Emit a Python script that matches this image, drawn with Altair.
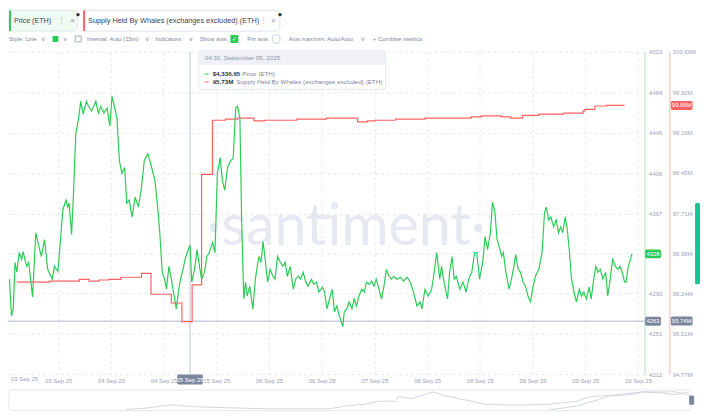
import altair as alt
import pandas as pd

# ------------------------------------------------------------------ data
# hours since 2025-09-03 00:00 and ETH price (USD)
price_hours = [1.1, 1.7, 2.2, 2.7, 3.2, 3.9, 4.6, 5.0, 6.0, 6.6, 7.7, 8.6, 9.5, 10.2, 11.1, 12.0, 13.3, 13.9,
               14.9, 15.8, 16.3, 17.2, 17.7, 18.1, 18.8, 19.3, 20.0, 20.8, 21.4, 22.1, 23.0, 23.6, 24.5, 25.7,
               26.4, 27.1, 28.0, 28.9, 29.7, 30.3, 31.1, 31.7, 32.4, 33.1, 33.9, 34.5, 35.2, 36.0, 36.9, 37.8,
               38.6, 39.5, 40.5, 41.1, 41.8, 42.5, 43.3, 43.9, 44.6, 45.3, 45.8, 46.5, 47.2, 48.0, 48.6, 49.3,
               49.8, 50.5, 51.1, 51.7, 52.5, 53.0, 53.8, 54.5, 55.2, 55.8, 56.6, 57.3, 58.0, 58.9, 59.6, 60.3,
               61.1, 61.7, 62.4, 63.2, 64.1, 64.8, 65.5, 66.0, 66.7, 67.2, 67.8, 68.3, 68.8, 69.5, 70.4, 71.1,
               72.1, 72.7, 73.3, 73.9, 74.6, 75.3, 76.1, 76.7, 77.4, 78.1, 78.9, 79.6, 80.2, 81.0, 81.9, 82.6,
               83.3, 84.0, 84.7, 85.5, 86.1, 87.1, 87.7, 88.5, 89.2, 90.2, 90.8, 91.5, 92.2, 93.0, 93.6, 94.3,
               95.0, 96.0, 96.4, 97.1, 97.8, 98.6, 99.2, 99.9, 100.6, 101.4, 102.1, 102.7, 103.5, 104.2, 104.9,
               105.5, 106.3, 107.0, 107.7, 108.4, 109.1, 109.8, 110.5, 111.4, 112.4, 113.3, 114.3, 115.2,
               116.1, 117.1, 118.0, 118.5, 119.4, 120.3, 121.3, 122.0, 122.7, 123.6, 124.1, 124.8, 125.8,
               126.4, 127.1, 127.7, 128.3, 129.3, 130.2, 131.1, 131.8, 132.7, 133.5, 134.1, 134.9, 135.8,
               136.5, 137.2, 138.0, 138.6, 139.3, 139.9, 140.5, 141.2, 141.7, 142.4, 143.3, 144.0, 144.7,
               145.2, 145.9, 146.6, 147.3, 148.0, 148.7, 149.4, 150.2, 150.8, 151.8, 152.7, 153.4, 153.9,
               154.6, 155.2, 156.0, 156.7, 157.4, 158.0, 158.6, 159.3, 159.9, 160.5, 161.1, 161.8, 162.5,
               163.3, 163.9, 164.6, 165.3, 166.1, 166.7, 167.4, 168.0, 168.6, 169.3, 170.0, 170.8, 171.4,
               172.1, 172.8, 173.6, 174.3, 174.9, 175.5, 176.2, 176.6, 177.1, 177.6, 178.3]
price_usd = [4303.6, 4268.3, 4275.0, 4319.8, 4310.3, 4329.3, 4322.7, 4330.3, 4316.0, 4319.8, 4286.4, 4348.4,
             4335.1, 4325.5, 4341.7, 4313.1, 4303.6, 4316.0, 4311.2, 4348.4, 4370.4, 4379.9, 4373.2, 4377.0,
             4346.5, 4382.8, 4443.8, 4459.1, 4475.3, 4462.9, 4475.3, 4470.5, 4465.8, 4475.3, 4463.9, 4470.5,
             4463.9, 4468.6, 4451.5, 4480.1, 4468.6, 4459.1, 4418.1, 4405.7, 4411.4, 4377.0, 4379.9, 4363.7,
             4382.8, 4373.2, 4389.4, 4418.1, 4424.7, 4418.1, 4408.5, 4399.0, 4373.2, 4348.4, 4310.3, 4303.6,
             4294.0, 4316.0, 4303.6, 4287.4, 4275.0, 4294.0, 4303.6, 4313.1, 4322.7, 4329.3, 4336.65, 4300.7,
             4313.1, 4332.2, 4316.0, 4303.6, 4310.3, 4325.5, 4329.3, 4338.9, 4329.3, 4405.7, 4420.9, 4399.0,
             4389.4, 4411.4, 4418.1, 4420.0, 4468.6, 4470.5, 4459.1, 4360.8, 4284.5, 4300.7, 4287.4, 4296.9,
             4275.0, 4303.6, 4325.5, 4319.8, 4339.8, 4322.7, 4300.7, 4313.1, 4306.4, 4303.6, 4325.5, 4320.8,
             4316.0, 4319.8, 4306.4, 4316.0, 4294.0, 4303.6, 4306.4, 4303.6, 4310.3, 4300.7, 4296.9, 4303.6,
             4298.8, 4300.7, 4291.2, 4296.0, 4291.2, 4275.0, 4284.5, 4294.0, 4272.1, 4277.8, 4268.3, 4257.8,
             4272.1, 4275.0, 4281.6, 4275.0, 4284.5, 4277.8, 4287.4, 4294.0, 4291.2, 4300.7, 4298.8, 4301.7,
             4296.9, 4303.6, 4294.0, 4284.5, 4296.9, 4313.1, 4306.4, 4303.6, 4306.4, 4303.6, 4305.5, 4301.7,
             4305.5, 4300.7, 4291.2, 4277.8, 4281.6, 4275.0, 4294.0, 4287.4, 4294.0, 4310.3, 4329.3, 4303.6,
             4316.0, 4300.7, 4284.5, 4310.3, 4325.5, 4303.6, 4306.4, 4294.0, 4300.7, 4291.2, 4303.6, 4310.3,
             4329.3, 4329.3, 4303.6, 4319.8, 4344.6, 4332.2, 4348.4, 4378.0, 4367.5, 4341.7, 4335.1, 4325.5,
             4329.3, 4310.3, 4294.0, 4303.6, 4316.0, 4327.4, 4313.1, 4310.3, 4300.7, 4296.9, 4287.4, 4281.6,
             4296.9, 4306.4, 4313.1, 4329.3, 4367.5, 4373.2, 4360.8, 4363.7, 4354.1, 4360.8, 4348.4, 4354.1,
             4348.4, 4363.7, 4351.3, 4329.3, 4303.6, 4291.2, 4281.6, 4294.0, 4287.4, 4291.2, 4284.5, 4296.0,
             4284.5, 4303.6, 4316.0, 4310.3, 4313.1, 4303.6, 4310.3, 4287.4, 4303.6, 4322.7, 4316.0, 4313.1,
             4316.0, 4310.3, 4300.7, 4300.7, 4313.1, 4319.8, 4328.0]

# hours since 2025-09-03 00:00 and supply held by whales (millions ETH), step series
whale_hours = [3.2, 12.5, 21.0, 23.8, 26.6, 29.4, 32.8, 38.7, 41.4, 47.2, 50.2, 53.1, 55.8, 58.9, 62.6, 66.0,
               70.7, 73.8, 82.8, 91.3, 98.8, 100.2, 103.0, 105.3, 111.0, 119.4, 126.4, 132.5, 135.4, 141.0,
               143.8, 147.1, 151.8, 156.0, 158.8, 161.6, 164.4, 164.9, 167.7, 171.0, 176.2]
whale_supply_m = [96.45, 96.47, 96.50, 96.47, 96.49, 96.50, 96.54, 96.61, 96.23, 96.07, 95.73, 96.40, 98.42,
                  99.41, 99.43, 99.45, 99.40, 99.41, 99.43, 99.45, 99.45, 99.38, 99.40, 99.41, 99.43, 99.45,
                  99.45, 99.47, 99.49, 99.47, 99.45, 99.50, 99.52, 99.52, 99.54, 99.54, 99.58, 99.61, 99.67,
                  99.68, 99.68]

price_ticks = [4212, 4251, 4290, 4328, 4367, 4406, 4445, 4484, 4523]
whale_ticks = [94.77, 95.51, 96.24, 96.98, 97.71, 98.45, 99.19, 99.92, 100.66]
time_tick_hours = [15, 30, 45, 60, 75, 90, 105, 120, 135, 150, 165, 180]
x_domain_hours = [0.7, 181.9]

cursor_hours = 52.5
cursor_label = "05 Sep 25"
tooltip_title = "04:30, September 05, 2025"
tooltip_price = "$4,336.65"
tooltip_whale = "95.73M"
crosshair_price = 4263
crosshair_whale = 95.74

# navigator (full history overview), relative position 0-100 and level 0-20
nav_pos_a = [17.1, 20.4, 23.7, 24.5, 25.8, 27.6, 32.4, 37.3, 46.9, 49.3, 52.2, 54.1, 56.6, 57.0, 59.0, 60.9,
             62.1, 63.8, 65.7, 67.7, 69.6, 72.5, 75.8, 79.3, 83.1, 85.1, 87.0, 89.4, 91.8, 92.8, 95.2, 97.5, 99.6]
nav_level_a = [0, 2, 5, 5, 4, 3, 2, 1, 1, 4, 6, 9, 9, 14, 12, 16, 19, 15, 12, 9, 6, 5, 5, 6, 9, 14, 15, 15,
               17, 19, 18, 16, 19]
nav_pos_b = [79.3, 83.1, 86.0, 88.0, 90.3, 92.8, 97.5, 100.0]
nav_level_b = [0, 4, 10, 15, 17, 19, 19, 15]

# ------------------------------------------------------------------ style
FONT = "Liberation Sans"
GREEN = "#2bcb56"
RED = "#ff6161"
LBL = "#9aa3b8"
GRID = "#e6e9f0"
SLATE = "#7c869c"
TOOL = "#7b859c"

T0 = pd.Timestamp("2025-09-03 00:00")


def ts(h):
    return T0 + pd.Timedelta(hours=h)


def dt(h):
    t = ts(h)
    return alt.DateTime(year=t.year, month=t.month, date=t.day, hours=t.hour, minutes=t.minute)


price_df = pd.DataFrame({"time": [ts(h) for h in price_hours], "price": price_usd})
whale_df = pd.DataFrame({"time": [ts(h) for h in whale_hours], "whale": whale_supply_m})
nav_a = pd.DataFrame({"pos": nav_pos_a, "lvl": nav_level_a})
nav_b = pd.DataFrame({"pos": nav_pos_b, "lvl": nav_level_b})

x_scale = alt.Scale(domain=[dt(x_domain_hours[0]), dt(x_domain_hours[1])])
p_scale = alt.Scale(domain=[price_ticks[0], price_ticks[-1]], nice=False, zero=False)
w_scale = alt.Scale(domain=[whale_ticks[0], whale_ticks[-1]], nice=False, zero=False)

W, H = 644, 326


def one(text=""):
    return alt.Chart(pd.DataFrame({"t": [text]}))


def ui_text(text, x, y, size=6.0, color=TOOL, align="left", weight="normal", font=FONT):
    return one(text).mark_text(align=align, baseline="middle", fontSize=size, color=color,
                               fontWeight=weight, font=font).encode(
        x=alt.value(x), y=alt.value(y), text="t:N")


def ui_rect(x, x2, y, y2, fill, stroke=None, radius=0, sw=1):
    kw = dict(fill=fill, cornerRadius=radius)
    if stroke:
        kw.update(stroke=stroke, strokeWidth=sw)
    return one().mark_rect(**kw).encode(x=alt.value(x), x2=alt.value(x2), y=alt.value(y), y2=alt.value(y2))


# watermark
watermark = ui_text("·santiment·", 342, 178, size=58, color="#e6e9f1", align="center", weight="normal",
                    font="Lato")

# main lines
price_line = alt.Chart(price_df).mark_line(color=GREEN, strokeWidth=1.2).encode(
    x=alt.X("time:T", scale=x_scale, title=None,
            axis=alt.Axis(values=[dt(h) for h in time_tick_hours], format="%d %b %y", grid=True,
                          gridDash=[3, 3], gridColor=GRID, domain=False, ticks=False, labelFontSize=6,
                          labelColor=LBL, labelFont=FONT, labelPadding=3, labelFlush=False,
                          labelOverlap=False)),
    y=alt.Y("price:Q", scale=p_scale, title=None,
            axis=alt.Axis(orient="right", values=price_ticks, format="d", grid=True, gridDash=[3, 3],
                          gridColor=GRID, domainColor="#c8efd1", domainWidth=1.5, ticks=False,
                          labelExpr=f"datum.value == {price_ticks[3]} ? '' : datum.label",
                          labelFontSize=6, labelColor=LBL, labelFont=FONT, labelPadding=4,
                          labelOverlap=False)),
)

whale_line = alt.Chart(whale_df).mark_line(color=RED, strokeWidth=1.2, interpolate="step-after").encode(
    x=alt.X("time:T", scale=x_scale, axis=None),
    y=alt.Y("whale:Q", scale=w_scale, title=None,
            axis=alt.Axis(orient="right", offset=25, values=whale_ticks,
                          labelExpr="format(datum.value, '.2f') + 'M'", grid=False,
                          domainColor="#ffcccc", domainWidth=1.5, ticks=False, labelFontSize=6,
                          labelColor=LBL, labelFont=FONT, labelPadding=3, labelOverlap=False)),
)

# crosshair
cur_df = pd.DataFrame({"time": [ts(cursor_hours)], "label": [cursor_label]})
v_rule = alt.Chart(cur_df).mark_rule(color="#bcc3d2", strokeWidth=1).encode(
    x=alt.X("time:T", scale=x_scale, axis=None))
h_df = pd.DataFrame({"price": [crosshair_price], "whale": [crosshair_whale],
                     "plab": [str(crosshair_price)], "wlab": [f"{crosshair_whale:.2f}M"]})
h_rule = alt.Chart(h_df).mark_rule(color="#c9cedb", strokeWidth=1.3).encode(
    y=alt.Y("price:Q", scale=p_scale, axis=None))

cur_box = alt.Chart(cur_df).mark_tick(thickness=26, size=10, color=SLATE, opacity=1, cornerRadius=1.5).encode(
    x=alt.X("time:T", scale=x_scale, axis=None), y=alt.value(331.5))
cur_txt = alt.Chart(cur_df).mark_text(color="white", fontSize=6, font=FONT, baseline="middle").encode(
    x=alt.X("time:T", scale=x_scale, axis=None), y=alt.value(331.5), text="label:N")

# value badges on the axes
last_df = pd.DataFrame({"price": [price_usd[-1]], "whale": [whale_supply_m[-1]],
                        "plab": [f"{price_usd[-1]:.0f}"], "wlab": [f"{whale_supply_m[-1]:.2f}M"]})


def badge(df, field, scale, label, xc, w, color):
    box = alt.Chart(df).mark_tick(size=w, thickness=9, color=color, opacity=1, cornerRadius=1.5).encode(
        y=alt.Y(f"{field}:Q", scale=scale, axis=None), x=alt.value(xc))
    txt = alt.Chart(df).mark_text(color="white", fontSize=6, font=FONT, baseline="middle").encode(
        y=alt.Y(f"{field}:Q", scale=scale, axis=None), x=alt.value(xc), text=f"{label}:N")
    return [box, txt]


badges = (badge(last_df, "price", p_scale, "plab", 652.5, 16, GREEN)
          + badge(last_df, "whale", w_scale, "wlab", 681.5, 22, RED)
          + badge(h_df, "price", p_scale, "plab", 652.5, 16, SLATE)
          + badge(h_df, "whale", w_scale, "wlab", 681.5, 22, SLATE))

first_label = ui_text("03 Sep 25", 3, 331, size=6, color=LBL)

# tooltip
tooltip = [
    ui_rect(193, 382, -1, 38, "white", "#e2e6ee", 2),
    ui_rect(193.5, 381.5, -0.5, 13, "#eff1f6"),
    ui_text(tooltip_title, 199, 6.3, size=6.3, color="#8b94aa"),
    ui_rect(199, 203, 22, 23, GREEN),
    ui_text(tooltip_price, 207, 22.5, size=6.3, color="#2f3547", weight="bold"),
    ui_text("Price (ETH)", 237, 22.5, size=6.3, color="#7b859c"),
    ui_rect(199, 203, 30, 31, RED),
    ui_text(tooltip_whale, 207, 30.5, size=6.3, color="#2f3547", weight="bold"),
    ui_text("Supply Held By Whales (exchanges excluded) (ETH)", 231, 30.5, size=6.3, color="#7b859c"),
]

# header chips and toolbar
header = [
    ui_rect(1, 70, -42, -21, "#effaf2", "#dfe6ee", 3),
    ui_rect(1, 3, -42, -21, GREEN),
    ui_text("Price (ETH)", 6, -31, size=7.2, color="#3b4256"),
    ui_text("⋮", 51, -31, size=7, color="#a3abbd"),
    ui_text("×", 63, -31, size=8, color="#8c95aa"),
    ui_text("◆", 71, -38, size=5, color="#222222", align="center"),
    ui_rect(76, 275, -42, -21, "white", "#dfe6ee", 3),
    ui_rect(76, 78, -42, -21, RED),
    ui_text("Supply Held By Whales (exchanges excluded) (ETH)", 81, -31, size=7.4, color="#3b4256"),
    ui_text("⋮", 255, -31, size=7, color="#a3abbd"),
    ui_text("×", 266, -31, size=8, color="#8c95aa"),
    ui_text("◆", 275, -38, size=5, color="#222222", align="center"),
    ui_text("Style: Line", 1, -13),
    ui_text("˅", 34, -12, size=6.5),
    ui_rect(45, 51, -16, -10, GREEN),
    ui_text("˅", 56, -12, size=6.5),
    ui_rect(68, 74, -16, -10, "white", "#8a93a8", 0.5, 0.8),
    ui_text("Interval: Auto (15m)", 80, -13),
    ui_text("˅", 139, -12, size=6.5),
    ui_text("Indicators:", 149, -13),
    ui_text("˅", 183, -12, size=6.5),
    ui_text("Show axis", 194, -13),
    ui_rect(225, 233, -17, -9, GREEN, None, 1),
    ui_text("✓", 229, -13, size=6.5, color="white", align="center", font="DejaVu Sans"),
    ui_text("Pin axis", 242, -13),
    ui_rect(268, 275, -17, -9, "white", "#c9cfdb", 1),
    ui_text("Axis max/min: Auto/Auto", 284, -13),
    ui_text("˅", 357, -12, size=6.5),
    ui_text("+  Combine metrics", 369, -13),
    ui_rect(695, 700, 153, 235, "#18c496", None, 1.5),
]

# navigator
nav_x = alt.Scale(domain=[0, 100], range=[1, 692])
nav_y = alt.Scale(domain=[0, 20], range=[362, 343])
navigator = [
    ui_rect(1, 692, 342, 363, "white", "#e3e7ee", 3),
    alt.Chart(nav_a).mark_line(color="#cdd2de", strokeWidth=0.9).encode(
        x=alt.X("pos:Q", scale=nav_x, axis=None), y=alt.Y("lvl:Q", scale=nav_y, axis=None)),
    alt.Chart(nav_b).mark_line(color="#cdd2de", strokeWidth=0.9).encode(
        x=alt.X("pos:Q", scale=nav_x, axis=None), y=alt.Y("lvl:Q", scale=nav_y, axis=None)),
    ui_rect(689, 694, 348, 357, SLATE, None, 1),
]

layers = ([watermark] + navigator + [h_rule, v_rule, whale_line, price_line] + badges
          + [cur_box, cur_txt, first_label] + tooltip + header)

chart = alt.layer(*layers).resolve_scale(x="independent", y="independent").properties(
    width=W, height=H,
    autosize=alt.AutoSizeParams(type="none"),
    padding={"left": 0, "top": 42, "right": 56, "bottom": 38},
    background="white",
).configure_view(stroke=None)

chart.save("out.html", embed_options={"renderer": "svg", "actions": False})
